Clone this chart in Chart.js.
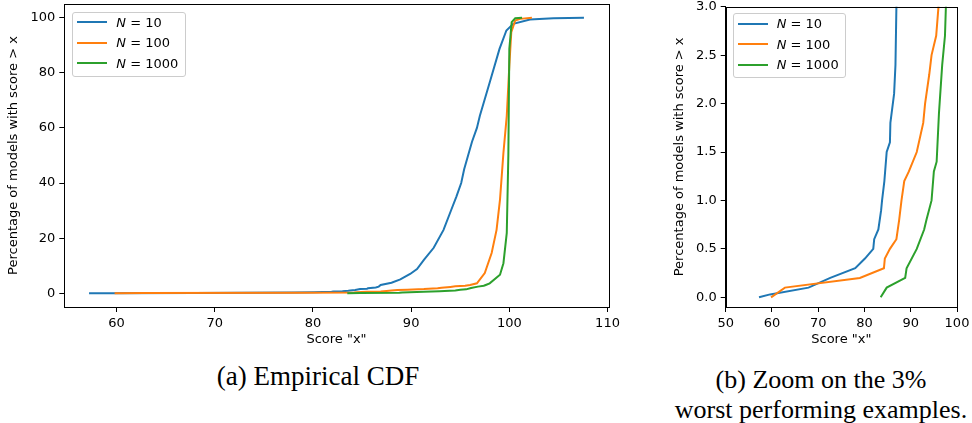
<!DOCTYPE html>
<html>
<head>
<meta charset="utf-8">
<script src="https://cdn.jsdelivr.net/npm/chart.js"></script>
<style>
  body { margin: 0; width: 972px; height: 423px; background: #fff; position: relative; overflow: hidden; font-family: 'DejaVu Sans', sans-serif; }
  .panel { position: absolute; top: 0; height: 351px; }
  #panelA { left: 0; width: 620px; }
  #panelB { left: 660px; width: 312px; }
  .legend { position: absolute; border: 1px solid #ccc; border-radius: 3px; background: rgba(255,255,255,0.8); width: 111.5px; height: 63px; font-size: 13px; color: #000; }
  .legend .row { position: absolute; left: 4px; height: 20px; display: flex; align-items: center; white-space: nowrap; }
  .legend .swatch { display: inline-block; width: 30px; height: 2px; margin-right: 9px; }
  .caption { position: absolute; font-family: 'Liberation Serif', serif; font-size: 27px; line-height: 30px; text-align: center; color: #000; }
</style>
</head>
<body>
<div class="panel" id="panelA"><canvas id="cdfChart"></canvas></div>
<div class="panel" id="panelB"><canvas id="zoomChart"></canvas></div>
<div class="caption" style="left:118px; top:361px; width:400px;">(a) Empirical CDF</div>
<div class="caption" style="left:621px; top:365px; width:400px; font-size:26px;">(b) Zoom on the 3%<br>worst performing examples.</div>
<script>
const seriesLabels = [10, 100, 1000];
const seriesColors = ['#1f77b4', '#ff7f0e', '#2ca02c'];

// score "x" and percentage of models with score > x
const scoreN10 = [57.2, 59.6, 67.9, 72.6, 78.0, 80.1, 81.9, 82.1, 83.0, 83.6, 83.8, 84.3, 84.8, 85.5, 85.6, 86.4, 86.7, 86.9,
  88.0, 88.9, 89.9, 90.6, 91.3, 92.3, 93.3, 94.1, 94.6, 95.1, 95.4, 95.8, 96.2, 96.7, 97.0, 98.0, 99.0, 99.7, 100.4, 102.1, 104.5, 107.6];
const pctN10 = [0, 0.03, 0.1, 0.2, 0.3, 0.4, 0.5, 0.6, 0.7, 0.9, 1.0, 1.2, 1.5, 1.6, 1.8, 2.1, 2.4, 3.0,
  3.8, 5.0, 7.0, 8.8, 12.1, 16.5, 23.0, 30.4, 35.0, 40.0, 45.0, 50.0, 55.0, 60.0, 64.4, 76.5, 88.7, 95.4, 97.8, 99.4, 99.8, 100];

const scoreN100 = [59.8, 62.8, 79.0, 84.2, 84.4, 85.5, 86.9, 87.5, 88.0, 88.6, 89.6, 91.3, 92.7, 93.1, 94.0, 94.5, 95.5, 96.0,
  96.7, 97.5, 98.2, 98.7, 99.05, 99.4, 99.74, 100.0, 100.2, 100.6, 101.1, 102.3];
const pctN100 = [0, 0.1, 0.2, 0.3, 0.4, 0.5, 0.6, 0.8, 1.0, 1.2, 1.3, 1.5, 1.8, 2.0, 2.3, 2.5, 2.7, 3.0,
  3.6, 7.3, 14.6, 23.0, 34.0, 51.0, 64.4, 82.6, 94.8, 99.0, 99.6, 100];

const scoreN1000 = [83.5, 84.8, 88.8, 89.1, 91.3, 92.9, 93.4, 94.5, 95.0, 95.6, 96.1, 96.8, 97.4, 97.6,
  98.0, 99.05, 99.4, 99.74, 99.9, 100.0, 100.24, 100.6, 101.3];
const pctN1000 = [0, 0.1, 0.2, 0.3, 0.5, 0.7, 0.8, 1.0, 1.3, 1.4, 1.9, 2.4, 2.7, 3.0,
  3.6, 6.7, 10.9, 21.9, 50.0, 88.7, 98.4, 99.8, 100];

const xTicksA = [60, 70, 80, 90, 100, 110];
const yTicksA = [0, 20, 40, 60, 80, 100];
const xTicksB = [50, 60, 70, 80, 90, 100];
const yTicksB = [0, 0.5, 1.0, 1.5, 2.0, 2.5, 3.0];

const scores = [scoreN10, scoreN100, scoreN1000];
const pcts = [pctN10, pctN100, pctN1000];

function points(xs, ys) {
  return xs.map((x, i) => ({ x: x, y: ys[i] }));
}

const frame = {
  id: 'frame',
  afterDatasetsDraw(chart) {
    const { ctx, chartArea: a } = chart;
    const l = Math.round(a.left) + 0.5, t = Math.round(a.top) + 0.5;
    const r = Math.round(a.right) + 0.5, b = Math.round(a.bottom) + 0.5;
    ctx.save();
    ctx.strokeStyle = '#000';
    ctx.lineWidth = 1;
    ctx.strokeRect(l, t, r - l, b - t);
    ctx.restore();
  }
};

function axis(min, max, ticks, title, size, titlePad, fmt) {
  return {
    type: 'linear',
    min: min,
    max: max,
    afterBuildTicks: s => { s.ticks = ticks.map(v => ({ value: v })); },
    afterFit: s => {
      if (s.isHorizontal()) s.height = size; else s.width = size;
      s.paddingTop = s.paddingBottom = s.paddingLeft = s.paddingRight = 0;
    },
    ticks: {
      color: '#000',
      font: { family: 'DejaVu Sans', size: 13 },
      padding: 4,
      maxRotation: 0,
      autoSkip: false,
      callback: fmt || (v => String(v))
    },
    grid: { drawOnChartArea: false, drawTicks: true, tickLength: 5, color: '#000' },
    border: { display: true, color: '#000', width: 1 },
    title: {
      display: true,
      text: title,
      color: '#000',
      font: { family: 'DejaVu Sans', size: 13 },
      padding: titlePad
    }
  };
}

function makeChart(id, padding, xAxis, yAxis) {
  const datasets = seriesLabels.map((n, i) => ({
    label: 'N = ' + n,
    data: points(scores[i], pcts[i]),
    borderColor: seriesColors[i],
    backgroundColor: seriesColors[i],
    borderWidth: 2,
    pointRadius: 0,
    tension: 0,
    fill: false,
    order: 2 - i,
    clip: 0
  }));
  return new Chart(document.getElementById(id), {
    type: 'line',
    data: { datasets: datasets },
    options: {
      responsive: true,
      maintainAspectRatio: false,
      animation: false,
      layout: { padding: padding },
      plugins: {
        legend: { display: false },
        tooltip: { enabled: false }
      },
      scales: { x: xAxis, y: yAxis }
    },
    plugins: [frame]
  });
}

function addLegend(panelId, left, top) {
  const box = document.createElement('div');
  box.className = 'legend';
  box.style.left = left + 'px';
  box.style.top = top + 'px';
  seriesLabels.forEach((n, i) => {
    const row = document.createElement('div');
    row.className = 'row';
    row.style.top = (-0.7 + 20.7 * i) + 'px';
    row.innerHTML = '<span class="swatch" style="background:' + seriesColors[i] + '"></span><span><i>N</i> = ' + n + '</span>';
    box.appendChild(row);
  });
  document.getElementById(panelId).appendChild(box);
}

makeChart('cdfChart',
  { left: 0, top: 4, right: 11.3, bottom: 0 },
  axis(54.68, 110.12, xTicksA, 'Score "x"', 44, { top: 4, bottom: 4 }),
  axis(-5, 105, yTicksA, 'Percentage of models with score > x', 64.3, { top: 6, bottom: 4 }));

makeChart('zoomChart',
  { left: 0, top: 6.7, right: 15, bottom: 0 },
  axis(50, 100, xTicksB, 'Score "x"', 44, { top: 4, bottom: 4 }),
  axis(-0.1, 3.0, yTicksB, 'Percentage of models with score > x', 65.7, { top: 12, bottom: 4 }, v => v.toFixed(1)));

addLegend('panelA', 72.3, 11.7);
addLegend('panelB', 72.7, 13.3);
</script>
</body>
</html>
